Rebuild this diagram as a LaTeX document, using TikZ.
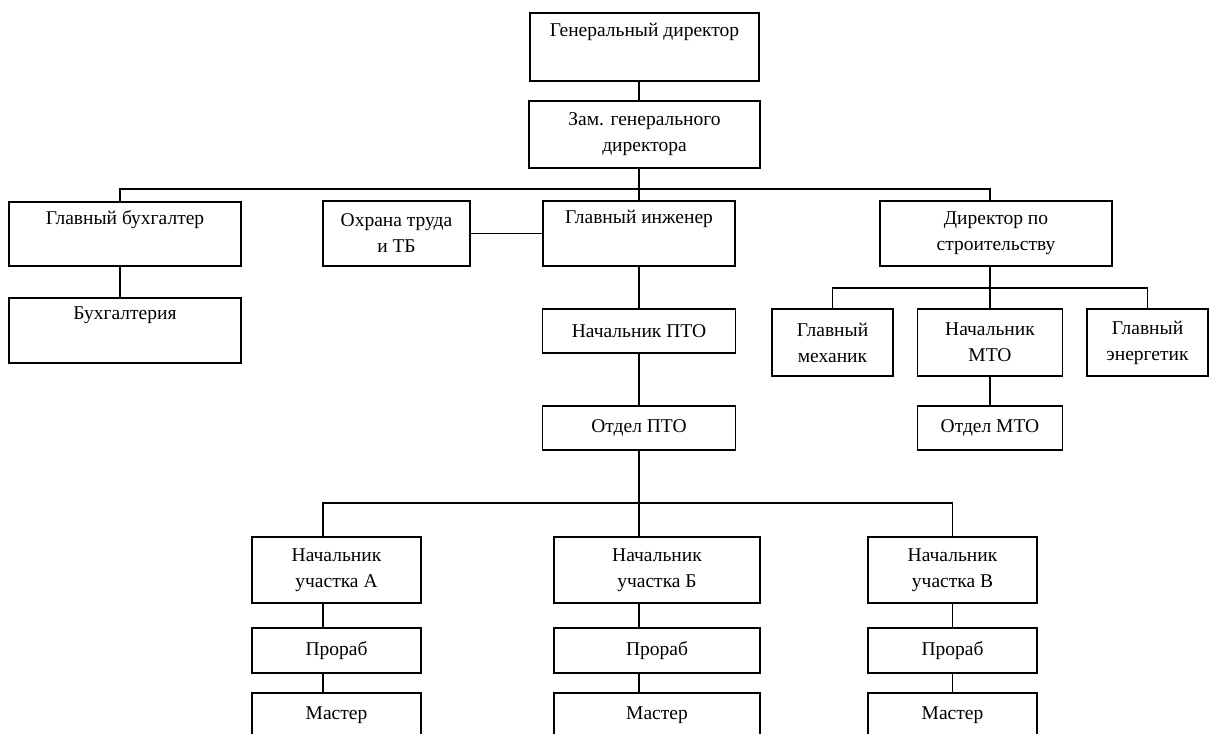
\documentclass[tikz,border=0pt]{standalone}
\usepackage{fontspec}
\setmainfont{Liberation Serif}
\usepackage{tikz}
\usetikzlibrary{positioning}
\tikzset{
  unit/.style={draw, line width=1.6pt, inner sep=0pt, outer sep=0pt, align=center, font=\fontsize{19.5}{26}\selectfont},
  link/.style={line width=1.2pt}
}

\begin{document}
\begin{tikzpicture}[x=1pt, y=-1pt]
  \path[use as bounding box, clip] (0,0) rectangle (1211,734);

  % top of the chart
  \node[unit, minimum width=229pt, minimum height=68pt] (gd) at (644.5,47) {Генеральный директор\\ \strut};
  \node[unit, minimum width=231pt, minimum height=67pt, below=20pt of gd] (zam) {Зам. генерального\\директора};

  % second level
  \node[unit, minimum width=232pt, minimum height=64pt] (glavbuh) at (125,234) {Главный бухгалтер\\ \strut};
  \node[unit, minimum width=232pt, minimum height=65pt, below=32pt of glavbuh] (buh) {Бухгалтерия\\ \strut};
  \node[unit, minimum width=147pt, minimum height=65pt] (ohrana) at (396.5,233.5) {Охрана труда\\и ТБ};
  \node[unit, minimum width=192pt, minimum height=65pt] (glavinzh) at (639,233.5) {Главный инженер\\ \strut};
  \node[unit, minimum width=232pt, minimum height=65pt] (dirstr) at (996,233.5) {Директор по\\строительству};

  % engineer branch
  \node[unit, minimum width=193pt, minimum height=44pt, below=43pt of glavinzh] (nachpto) {Начальник ПТО};
  \node[unit, minimum width=193pt, minimum height=44pt, below=53pt of nachpto] (otdpto) {Отдел ПТО};

  % construction branch
  \node[unit, minimum width=121pt, minimum height=67pt] (mekh) at (832.5,342.5) {Главный\\механик};
  \node[unit, minimum width=145pt, minimum height=67pt] (nachmto) at (990,342.5) {Начальник\\МТО};
  \node[unit, minimum width=121pt, minimum height=67pt] (energ) at (1147.5,342.5) {Главный\\энергетик};
  \node[unit, minimum width=145pt, minimum height=44pt, below=30pt of nachmto] (otdmto) {Отдел МТО};

  % sites
  \node[unit, minimum width=169pt, minimum height=66pt] (uchA) at (336.5,570) {Начальник\\участка А};
  \node[unit, minimum width=206pt, minimum height=66pt] (uchB) at (657,570) {Начальник\\участка Б};
  \node[unit, minimum width=169pt, minimum height=66pt] (uchC) at (952.5,570) {Начальник\\участка В};
  \node[unit, minimum width=169pt, minimum height=45pt, below=25pt of uchA] (prA) {Прораб};
  \node[unit, minimum width=206pt, minimum height=45pt, below=25pt of uchB] (prB) {Прораб};
  \node[unit, minimum width=169pt, minimum height=45pt, below=25pt of uchC] (prC) {Прораб};
  \node[unit, minimum width=169pt, minimum height=45pt, below=20pt of prA] (msA) {Мастер};
  \node[unit, minimum width=206pt, minimum height=45pt, below=20pt of prB] (msB) {Мастер};
  \node[unit, minimum width=169pt, minimum height=45pt, below=20pt of prC] (msC) {Мастер};

  \coordinate (busL) at (120,189);
  \coordinate (busR) at (990,189);
  \coordinate (b2L) at (323,503);
  \coordinate (b2R) at (952.5,503);
  \coordinate (b3R) at (1147.5,288);

  \draw[link] (gd.south -| glavinzh) -- (zam.north -| glavinzh);
  \draw[link] (zam.south -| glavinzh) -- (glavinzh.north);
  \draw[link] (glavbuh.north -| busL) |- (busR) -- (dirstr.north -| busR);
  \draw[link] (glavbuh.south -| busL) -- (buh.north -| busL);
  \draw[link] (ohrana) -- (glavinzh);
  \draw[link] (glavinzh) -- (nachpto);
  \draw[link] (nachpto) -- (otdpto);
  \draw[link] (otdpto.south) -- (uchB.north -| otdpto);
  \draw[link] (uchA.north -| b2L) |- (b2R) -- (uchC.north);
  \draw[link] (uchA.south -| b2L) -- (prA.north -| b2L);
  \draw[link] (prA.south -| b2L) -- (msA.north -| b2L);
  \draw[link] (uchB.south -| otdpto) -- (prB.north -| otdpto);
  \draw[link] (prB.south -| otdpto) -- (msB.north -| otdpto);
  \draw[link] (uchC) -- (prC);
  \draw[link] (prC) -- (msC);
  \draw[link] (dirstr.south -| nachmto) -- (nachmto.north);
  \draw[link] (mekh.north) |- (b3R) -- (energ.north);
  \draw[link] (nachmto) -- (otdmto);
\end{tikzpicture}
\end{document}
